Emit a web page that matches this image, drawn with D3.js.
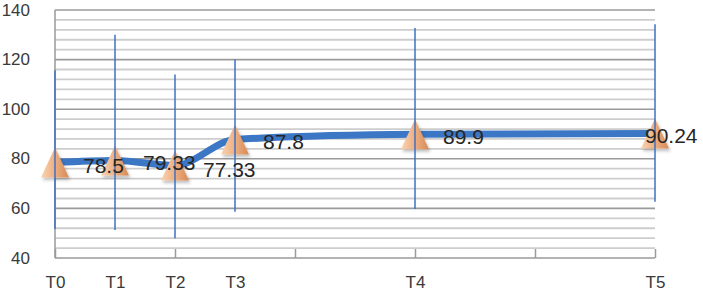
<!DOCTYPE html>
<html>
<head>
<meta charset="utf-8">
<script src="https://cdn.jsdelivr.net/npm/d3@7"></script>
<style>
  body { margin: 0; background: #fff; }
  svg { display: block; }
</style>
</head>
<body>
<div id="chart"></div>
<script>
// data
const periods = ["T0", "T1", "T2", "T3", "T4", "T5"];
const timeIndex = [0, 1, 2, 3, 6, 10];
const means = [78.5, 79.33, 77.33, 87.8, 89.9, 90.24];
const highs = [115.7, 130, 114, 120, 132.7, 134.3];
const lows = [51.7, 51.3, 48, 58.6, 59.8, 62.7];
const yTicks = [40, 60, 80, 100, 120, 140];
const xTickMarks = [0, 2, 4, 6, 8, 10];

const W = 703, H = 291;
const margin = {top: 10, right: 48, bottom: 33, left: 55};

const svg = d3.select("#chart").append("svg")
  .attr("width", W).attr("height", H);

const defs = svg.append("defs");
const grad = defs.append("linearGradient").attr("id", "cone")
  .attr("x1", "0%").attr("x2", "100%").attr("y1", "0%").attr("y2", "0%");
grad.append("stop").attr("offset", "0%").attr("stop-color", "#f8d3b2");
grad.append("stop").attr("offset", "45%").attr("stop-color", "#efb286");
grad.append("stop").attr("offset", "100%").attr("stop-color", "#d68a55");
const shadow = defs.append("filter").attr("id", "shadow")
  .attr("x", "-50%").attr("y", "-50%").attr("width", "200%").attr("height", "200%");
shadow.append("feDropShadow").attr("dx", 1.5).attr("dy", 2.5)
  .attr("stdDeviation", 1.5).attr("flood-color", "#000").attr("flood-opacity", 0.25);

const x = d3.scaleLinear().domain([0, 10]).range([margin.left, W - margin.right]);
const y = d3.scaleLinear().domain([40, 140]).range([H - margin.bottom, margin.top]);

// grid: minor every 4, major every 20
const grid = svg.append("g");
grid.selectAll("line.minor").data(d3.range(40, 141, 4).filter(v => v % 20 !== 0))
  .enter().append("line").attr("class", "minor")
  .attr("x1", x(0)).attr("x2", x(10))
  .attr("y1", d => y(d)).attr("y2", d => y(d))
  .attr("stroke", "#cdcdcd").attr("stroke-width", 1.8);
grid.selectAll("line.major").data(yTicks)
  .enter().append("line").attr("class", "major")
  .attr("x1", x(0)).attr("x2", x(10))
  .attr("y1", d => y(d)).attr("y2", d => y(d))
  .attr("stroke", "#9a9a9a").attr("stroke-width", 1.6);
grid.append("line")
  .attr("x1", x(0)).attr("x2", x(0))
  .attr("y1", y(40)).attr("y2", y(140))
  .attr("stroke", "#9a9a9a").attr("stroke-width", 1.5);

// x tick marks pointing up from axis
const xMarks = svg.append("g").attr("transform", `translate(0,${y(40)})`)
  .call(d3.axisBottom(x).tickValues(xTickMarks).tickSize(-9).tickFormat(""));
xMarks.select(".domain").remove();
xMarks.selectAll(".tick line").attr("stroke", "#9a9a9a").attr("stroke-width", 1.5);

// axis labels
const yAxis = svg.append("g").attr("transform", `translate(${margin.left},0)`)
  .call(d3.axisLeft(y).tickValues(yTicks).tickSize(0).tickPadding(25));
yAxis.select(".domain").remove();
yAxis.selectAll("text").attr("font-family", "Liberation Sans, Arial, sans-serif")
  .attr("font-size", 17).attr("fill", "#3a3a3a").attr("dy", "0.3em");

const xAxis = svg.append("g").attr("transform", `translate(0,${y(40)})`)
  .call(d3.axisBottom(x).tickValues(timeIndex).tickSize(0).tickPadding(18)
    .tickFormat((d, i) => periods[i]));
xAxis.select(".domain").remove();
xAxis.selectAll("text").attr("font-family", "Liberation Sans, Arial, sans-serif")
  .attr("font-size", 17).attr("fill", "#3a3a3a");

const pts = periods.map((p, i) => ({p, t: timeIndex[i], m: means[i], hi: highs[i], lo: lows[i]}));

// mean line (smoothed)
const line = d3.line().x(d => x(d.t)).y(d => y(d.m)).curve(d3.curveMonotoneX);
svg.append("path").datum(pts)
  .attr("d", line)
  .attr("fill", "none")
  .attr("stroke", "#3b77c4")
  .attr("stroke-width", 7)
  .attr("stroke-linecap", "round");

// markers
svg.selectAll("path.marker").data(pts).enter().append("path")
  .attr("class", "marker")
  .attr("d", "M0,-15 L14,15 L-14,15 Z")
  .attr("transform", d => `translate(${x(d.t)},${y(d.m)})`)
  .attr("fill", "url(#cone)")
  .attr("filter", "url(#shadow)");

// range lines
svg.selectAll("line.range").data(pts).enter().append("line")
  .attr("class", "range")
  .attr("x1", d => x(d.t)).attr("x2", d => x(d.t))
  .attr("y1", d => y(d.hi)).attr("y2", d => y(d.lo))
  .attr("stroke", "#3f72c0").attr("stroke-width", 1.5);

// value labels
svg.selectAll("text.val").data(pts).enter().append("text")
  .attr("class", "val")
  .attr("x", (d, i) => x(d.t) + (i === pts.length - 1 ? -10 : 28))
  .attr("y", (d, i) => y(d.m) + (i === 2 ? 12 : 10))
  .attr("font-family", "Liberation Sans, Arial, sans-serif")
  .attr("font-size", 21)
  .attr("fill", "#262626")
  .text(d => d.m);
</script>
</body>
</html>
